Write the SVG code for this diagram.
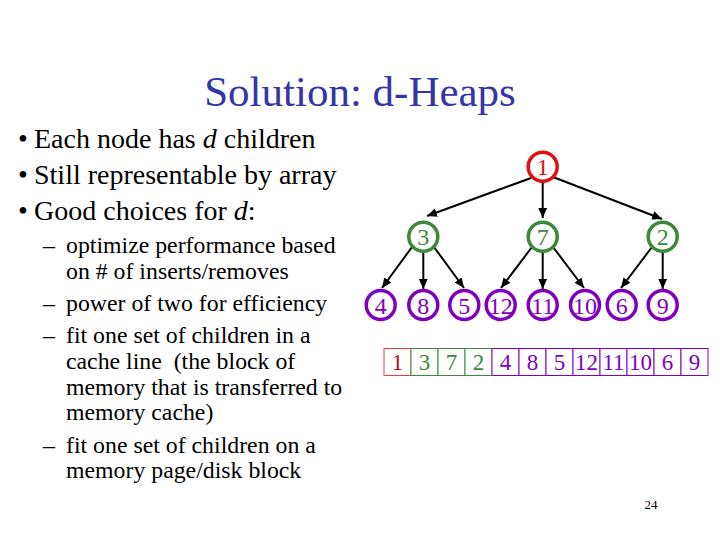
<svg xmlns="http://www.w3.org/2000/svg" width="720" height="540" viewBox="0 0 720 540">
<style>
  text { font-family: "Liberation Serif", "Times New Roman", serif; }
  .title { font-size: 43px; fill: #3535a8; text-anchor: middle; }
  .b1 { font-size: 28px; fill: #000; }
  .b2 { font-size: 23.8px; fill: #000; }
  .node circle { fill: #fff; stroke-width: 3.5; }
  .node text { font-size: 24px; text-anchor: middle; }
  .red circle { stroke: #e01010; } .red text { fill: #e01010; }
  .green circle { stroke: #3a8a3a; } .green text { fill: #3a8a3a; }
  .purple circle { stroke: #8000c0; } .purple text { fill: #8000c0; }
  .edge { stroke: #000; stroke-width: 2; fill: none; marker-end: url(#arr); }
  .cell rect { fill: #fff; stroke-width: 1; }
  .cell text { font-size: 23px; text-anchor: middle; }
  .cr rect { stroke: #e04040; } .cr text { fill: #c01010; }
  .cg rect { stroke: #3a8a3a; } .cg text { fill: #3a8a3a; }
  .cp rect { stroke: #8000c0; } .cp text { fill: #8000c0; }
</style>
<defs>
  <marker id="arr" markerUnits="userSpaceOnUse" markerWidth="11" markerHeight="11" viewBox="0 0 10 10" refX="9" refY="5" orient="auto">
    <path d="M0,1 L9,5 L0,9 Z" fill="#000"/>
  </marker>
</defs>
<rect width="720" height="540" fill="#fff"/>

<text class="title" x="360" y="106">Solution: d-Heaps</text>

<g id="text-bullets">
  <text class="b1" x="18" y="148">•</text>
  <text class="b1" x="34" y="148">Each node has <tspan font-style="italic">d</tspan> children</text>
  <text class="b1" x="18" y="184">•</text>
  <text class="b1" x="34" y="184">Still representable by array</text>
  <text class="b1" x="18" y="220">•</text>
  <text class="b1" x="34" y="220">Good choices for <tspan font-style="italic">d</tspan>:</text>
  <text class="b2" x="43" y="253">–</text>
  <text class="b2" x="66" y="253">optimize performance based</text>
  <text class="b2" x="66" y="279">on # of inserts/removes</text>
  <text class="b2" x="43" y="311">–</text>
  <text class="b2" x="66" y="311">power of two for efficiency</text>
  <text class="b2" x="43" y="343">–</text>
  <text class="b2" x="66" y="343">fit one set of children in a</text>
  <text class="b2" x="66" y="369" xml:space="preserve">cache line  (the block of</text>
  <text class="b2" x="66" y="395">memory that is transferred to</text>
  <text class="b2" x="66" y="420">memory cache)</text>
  <text class="b2" x="43" y="453">–</text>
  <text class="b2" x="66" y="453">fit one set of children on a</text>
  <text class="b2" x="66" y="478">memory page/disk block</text>
</g>

<g id="connectors">
  <line class="edge" x1="531" y1="178" x2="427" y2="216"/>
  <line class="edge" x1="542.7" y1="181" x2="542.7" y2="218"/>
  <line class="edge" x1="553" y1="177" x2="662" y2="219"/>
  <line class="edge" x1="412" y1="247" x2="382" y2="288"/>
  <line class="edge" x1="423.3" y1="252" x2="423.3" y2="289"/>
  <line class="edge" x1="434" y1="247" x2="464" y2="288"/>
  <line class="edge" x1="532" y1="247" x2="501" y2="288"/>
  <line class="edge" x1="542.7" y1="252" x2="542.7" y2="289"/>
  <line class="edge" x1="553" y1="247" x2="584" y2="288"/>
  <line class="edge" x1="652" y1="247" x2="621" y2="288"/>
  <line class="edge" x1="662.7" y1="252" x2="662.7" y2="289"/>
</g>

<g id="node-1" class="node red"><circle cx="542.7" cy="166.7" r="14.5"/><text x="542.7" y="175">1</text></g>
<g id="node-3" class="node green"><circle cx="423.3" cy="236.7" r="14.5"/><text x="423.3" y="245">3</text></g>
<g id="node-7" class="node green"><circle cx="542.7" cy="236.7" r="14.5"/><text x="542.7" y="245">7</text></g>
<g id="node-2" class="node green"><circle cx="662.7" cy="236.7" r="14.5"/><text x="662.7" y="245">2</text></g>
<g id="node-4" class="node purple"><circle cx="380.7" cy="305" r="14.5"/><text x="380.7" y="313.5">4</text></g>
<g id="node-8" class="node purple"><circle cx="423.3" cy="305" r="14.5"/><text x="423.3" y="313.5">8</text></g>
<g id="node-5" class="node purple"><circle cx="464.3" cy="305" r="14.5"/><text x="464.3" y="313.5">5</text></g>
<g id="node-12" class="node purple"><circle cx="500.7" cy="305" r="14.5"/><text x="500.7" y="313.5">12</text></g>
<g id="node-11" class="node purple"><circle cx="542.7" cy="305" r="14.5"/><text x="542.7" y="313.5">11</text></g>
<g id="node-10" class="node purple"><circle cx="585" cy="305" r="14.5"/><text x="585" y="313.5">10</text></g>
<g id="node-6" class="node purple"><circle cx="621.7" cy="305" r="14.5"/><text x="621.7" y="313.5">6</text></g>
<g id="node-9" class="node purple"><circle cx="662.7" cy="305" r="14.5"/><text x="662.7" y="313.5">9</text></g>

<g id="array">
  <g class="cell cr"><rect x="384" y="348.5" width="27" height="27"/><text x="397.5" y="370">1</text></g>
  <g class="cell cg"><rect x="411" y="348.5" width="27" height="27"/><text x="424.5" y="370">3</text></g>
  <g class="cell cg"><rect x="438" y="348.5" width="27" height="27"/><text x="451.5" y="370">7</text></g>
  <g class="cell cg"><rect x="465" y="348.5" width="27" height="27"/><text x="478.5" y="370">2</text></g>
  <g class="cell cp"><rect x="492" y="348.5" width="27" height="27"/><text x="505.5" y="370">4</text></g>
  <g class="cell cp"><rect x="519" y="348.5" width="27" height="27"/><text x="532.5" y="370">8</text></g>
  <g class="cell cp"><rect x="546" y="348.5" width="27" height="27"/><text x="559.5" y="370">5</text></g>
  <g class="cell cp"><rect x="573" y="348.5" width="27" height="27"/><text x="586.5" y="370">12</text></g>
  <g class="cell cp"><rect x="600" y="348.5" width="27" height="27"/><text x="613.5" y="370">11</text></g>
  <g class="cell cp"><rect x="627" y="348.5" width="27" height="27"/><text x="640.5" y="370">10</text></g>
  <g class="cell cp"><rect x="654" y="348.5" width="27" height="27"/><text x="667.5" y="370">6</text></g>
  <g class="cell cp"><rect x="681" y="348.5" width="27" height="27"/><text x="694.5" y="370">9</text></g>
</g>

<text x="651" y="509" font-size="13" text-anchor="middle" fill="#000">24</text>
</svg>
